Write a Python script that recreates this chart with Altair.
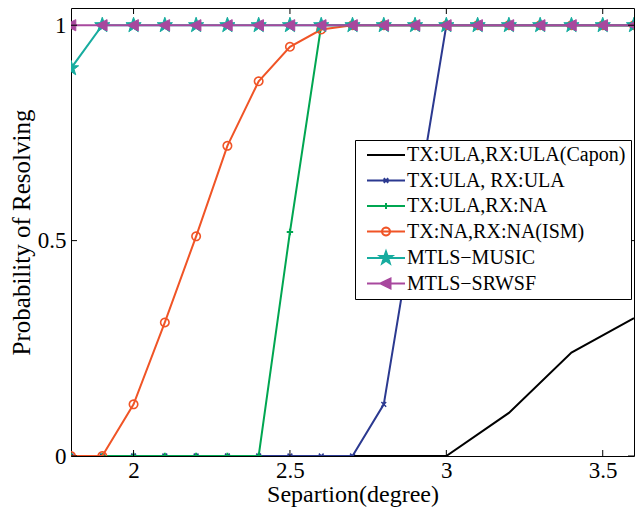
import math
import altair as alt
import pandas as pd

# ---------------- data ----------------
series_names = [
    "TX:ULA,RX:ULA(Capon)",
    "TX:ULA, RX:ULA",
    "TX:ULA,RX:NA",
    "TX:NA,RX:NA(ISM)",
    "MTLS\u2212MUSIC",
    "MTLS\u2212SRWSF",
]
x_sep = [1.8, 1.9, 2.0, 2.1, 2.2, 2.3, 2.4, 2.5, 2.6, 2.7,
         2.8, 2.9, 3.0, 3.1, 3.2, 3.3, 3.4, 3.5, 3.6]
capon_x = [1.8, 2.0, 2.2, 2.4, 2.6, 2.8, 3.0, 3.2, 3.4, 3.6]
capon_y = [0, 0, 0, 0, 0, 0, 0, 0.10, 0.24, 0.32]
ula_y = [0, 0, 0, 0, 0, 0, 0, 0, 0, 0, 0.12, 0.56, 1, 1, 1, 1, 1, 1, 1]
na_y = [0, 0, 0, 0, 0, 0, 0, 0.52, 1, 1, 1, 1, 1, 1, 1, 1, 1, 1, 1]
ism_y = [0, 0, 0.12, 0.31, 0.51, 0.72, 0.87, 0.95, 0.99, 1, 1, 1, 1, 1, 1, 1, 1, 1, 1]
music_y = [0.9, 1, 1, 1, 1, 1, 1, 1, 1, 1, 1, 1, 1, 1, 1, 1, 1, 1, 1]
srwsf_y = [1, 1, 1, 1, 1, 1, 1, 1, 1, 1, 1, 1, 1, 1, 1, 1, 1, 1, 1]
x_ticks = [2, 2.5, 3, 3.5]
y_ticks = [0, 0.5, 1]

stroke_colors = ["#000000", "#2B3990", "#00A651", "#F05426", "#17AC9F", "#A8489E"]
fill_colors = ["transparent", "transparent", "transparent", "transparent", "#17AC9F", "#A8489E"]

rows = []
for xv, yv in zip(capon_x, capon_y):
    rows.append({"series": series_names[0], "x": xv, "y": yv})
for name, ys in zip(series_names[1:], [ula_y, na_y, ism_y, music_y, srwsf_y]):
    for xv, yv in zip(x_sep, ys):
        rows.append({"series": name, "x": xv, "y": yv})
df = pd.DataFrame(rows)
df_xt = pd.DataFrame({"t": x_ticks})
df_yt = pd.DataFrame({"t": y_ticks})

# ---------------- marker shapes (unit coordinates) ----------------
def star(R, r):
    pts = []
    for k in range(10):
        a = -math.pi / 2 + k * math.pi / 5
        rad = R if k % 2 == 0 else r
        pts.append((rad * math.cos(a), rad * math.sin(a)))
    return "M" + "L".join(f"{px:.3f},{py:.3f}" for px, py in pts) + "Z"

def ring(r, n=24):
    pts = [(r * math.cos(2 * math.pi * k / n), r * math.sin(2 * math.pi * k / n)) for k in range(n)]
    return "M" + "L".join(f"{px:.3f},{py:.3f}" for px, py in pts) + "Z"

def xmark(h):
    return f"M{-h},{-h}L{h},{h}M{-h},{h}L{h},{-h}"

def plus(h):
    return f"M{-h},0H{h}M0,{-h}V{h}"

def tri_left(tip, base, half):
    return f"M{-tip},0L{base},{-half}L{base},{half}Z"

plot_shapes = [None, xmark(0.6), plus(0.8), ring(1.05), star(2.0, 0.8), tri_left(1.6, 1.2, 1.4)]
plot_sw = [0, 1.5, 2.0, 1.6, 1.0, 1.0]

seg = "M-3.8,0H3.8"
legend_shapes = [
    seg,
    seg + xmark(0.45),
    seg + plus(0.6),
    seg + ring(0.8),
    seg + star(1.3, 0.52),
    seg + tri_left(1.1, 0.9, 1.0),
]

# ---------------- scales ----------------
xs = alt.Scale(domain=[1.8, 3.6], nice=False, zero=False)
ys = alt.Scale(domain=[0, 1.04], nice=False, zero=False)
stroke_scale = alt.Scale(domain=series_names, range=stroke_colors)
fill_scale = alt.Scale(domain=series_names, range=fill_colors)
shape_scale = alt.Scale(domain=series_names, range=legend_shapes)
LEG = alt.Legend(title=None)

FONT = "Liberation Serif"
W, H = 563, 448

X = alt.X("x:Q", scale=xs, title="Separtion(degree)",
          axis=alt.Axis(values=x_ticks, format="~g", ticks=False, domain=False, grid=False,
                        labelPadding=3, titlePadding=0, labelFontSize=23, titleFontSize=24,
                        labelFont=FONT, titleFont=FONT, labelColor="black", titleColor="black",
                        titleFontWeight="normal"))
Y = alt.Y("y:Q", scale=ys, title="Probability of Resolving",
          axis=alt.Axis(values=y_ticks, format="~g", ticks=False, domain=False, grid=False,
                        labelPadding=5, titlePadding=3, labelFontSize=23, titleFontSize=25,
                        labelFont=FONT, titleFont=FONT, labelColor="black", titleColor="black",
                        titleFontWeight="normal"))

layers = []
for i, name in enumerate(series_names):
    f = alt.datum.series == name
    layers.append(
        alt.Chart(df).transform_filter(f).mark_line(strokeWidth=2, clip=True).encode(
            x=X, y=Y, stroke=alt.Stroke("series:N", scale=stroke_scale, legend=LEG)
        )
    )
    if plot_shapes[i] is not None:
        layers.append(
            alt.Chart(df).transform_filter(f).mark_point(
                shape=plot_shapes[i], size=64, strokeWidth=plot_sw[i], opacity=1, clip=True
            ).encode(
                x=X, y=Y,
                stroke=alt.Stroke("series:N", scale=stroke_scale, legend=LEG),
                fill=alt.Fill("series:N", scale=fill_scale, legend=LEG),
            )
        )

# inward ticks (MATLAB style) on all four sides
tick_len = 6
layers.append(alt.Chart(df_xt).mark_rule(color="black", strokeWidth=1).encode(
    x=alt.X("t:Q", scale=xs), y=alt.value(H), y2=alt.value(H - tick_len)))
layers.append(alt.Chart(df_xt).mark_rule(color="black", strokeWidth=1).encode(
    x=alt.X("t:Q", scale=xs), y=alt.value(0), y2=alt.value(tick_len)))
layers.append(alt.Chart(df_yt).mark_rule(color="black", strokeWidth=1).encode(
    y=alt.Y("t:Q", scale=ys), x=alt.value(0), x2=alt.value(tick_len)))
layers.append(alt.Chart(df_yt).mark_rule(color="black", strokeWidth=1).encode(
    y=alt.Y("t:Q", scale=ys), x=alt.value(W), x2=alt.value(W - tick_len)))

# legend carrier layer (no visible marks)
layers.append(
    alt.Chart(df).transform_filter("false").mark_point(strokeWidth=2, opacity=1).encode(
        x=X, y=Y,
        stroke=alt.Stroke("series:N", scale=stroke_scale, legend=LEG),
        fill=alt.Fill("series:N", scale=fill_scale, legend=LEG),
        shape=alt.Shape("series:N", scale=shape_scale, legend=LEG),
    )
)

chart = alt.layer(*layers).properties(
    width=W, height=H,
    autosize=alt.AutoSizeParams(type="none"),
    padding={"left": 63, "top": 0, "right": 1, "bottom": 52},
    background="white",
).configure_view(
    stroke="black", strokeWidth=1, fill="white"
).configure_legend(
    orient="none", legendX=284, legendY=132, padding=5, symbolOffset=16, labelOffset=11,
    rowPadding=5.5, strokeColor="black", fillColor="white", labelFont=FONT, labelFontSize=20,
    labelColor="black", symbolSize=100, symbolStrokeWidth=2, labelLimit=0, symbolOpacity=1,
    cornerRadius=0,
)

chart.save("out.html", embed_options={"renderer": "svg", "actions": False})
